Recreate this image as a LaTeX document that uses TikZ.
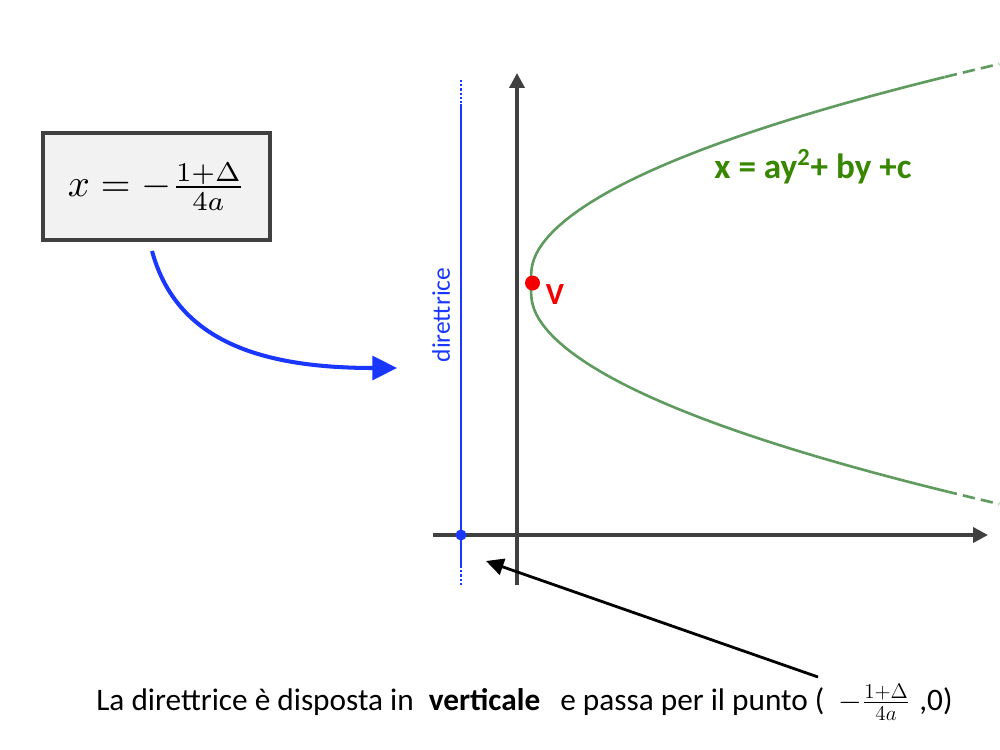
\documentclass[tikz,border=0pt]{standalone}
\usepackage{fontspec}
\setmainfont{Carlito}
\usetikzlibrary{arrows.meta, positioning, calc}

\definecolor{colAxis}{RGB}{64, 64, 64}
\definecolor{colDir}{RGB}{25, 55, 255}
\definecolor{colParab}{RGB}{95, 155, 95}
\definecolor{colEq}{RGB}{55, 135, 0}
\definecolor{colV}{RGB}{245, 0, 0}
\definecolor{colBox}{RGB}{242, 242, 242}
\definecolor{colBoxLine}{RGB}{64, 64, 64}

\tikzset{
    asse/.style={draw=colAxis, line width=2.1pt, -{Triangle[length=8.5pt, width=8.5pt]}},
    dirline/.style={draw=colDir, line width=1.1pt},
    dirdots/.style={dirline, dash pattern=on 1.2pt off 1.2pt},
    parab/.style={draw=colParab, line width=1.5pt},
    punto/.style={circle, inner sep=0pt, minimum size=#1},
}

\begin{document}
\begin{tikzpicture}[x=0.02cm, y=-0.02cm, every node/.style={font=\fontsize{17.8}{21}\selectfont}]
    \useasboundingbox (0, 0) rectangle (1000, 750);

    % --- Assi ---
    \coordinate (xS) at (433, 535);
    \coordinate (xE) at (988, 535);
    \coordinate (yS) at (517, 585);
    \coordinate (yE) at (517, 73);
    \draw[asse] (xS) -- (xE);
    \draw[asse] (yS) -- (yE);

    % --- Direttrice ---
    \coordinate (dTop) at (461, 80);
    \coordinate (dA) at (461, 104);
    \coordinate (dB) at (461, 566);
    \coordinate (dBot) at (461, 586);
    \draw[dirdots] (dTop) -- (dA);
    \draw[dirline] (dA) -- (dB);
    \draw[dirdots] (dB) -- (dBot);
    \node[punto=11*0.02cm, fill=colDir] (F) at (461, 535) {};
    \node[rotate=90, text=colDir, font=\fontsize{14.5}{17}\selectfont] (lDir) at (441, 315) {direttrice};

    % --- Parabola: x = 531 + 98 t^2 (t^2/(t^2+0.0625)), y = 284 - 100 t ---
    \draw[parab] plot[domain=-2.07:2.07, samples=90, variable=\t]
        ({531+98*\t*\t*(\t*\t/(\t*\t+0.0625))}, {284-100*\t});
    % tratti finali tratteggiati
    \draw[parab, dash pattern=on 7pt off 3.5pt] plot[domain=2.07:2.2, samples=8, variable=\t]
        ({531+98*\t*\t*(\t*\t/(\t*\t+0.0625))}, {284-100*\t});
    \draw[parab, dash pattern=on 7pt off 3.5pt] plot[domain=-2.07:-2.2, samples=8, variable=\t]
        ({531+98*\t*\t*(\t*\t/(\t*\t+0.0625))}, {284-100*\t});

    % Vertice
    \node[punto=15*0.02cm, fill=colV] (V) at (532.5, 283) {};
    \node[text=colV, font=\fontsize{17.5}{21}\bfseries] (lV) at (555, 295) {V};

    % Equazione
    \node[text=colEq, font=\fontsize{20}{24}\bfseries] (lEq) at (813, 167) {x = ay\textsuperscript{2}+ by +c};

    % --- Riquadro formula ---
    \node[draw=colBoxLine, fill=colBox, line width=2.3pt, minimum width=227*0.02cm,
          minimum height=107*0.02cm, font=\normalsize] (fBox) at (156.5, 186.5)
          {\scalebox{2.2}{$x = -\frac{1+\Delta}{4a}$}};

    % Freccia blu
    \coordinate (bS) at (152, 251);
    \coordinate (bE) at (397, 368);
    \draw[colDir, line width=2.3pt, -{Triangle[length=14pt, width=13.5pt]}]
        (bS) .. controls (175, 335) and (250, 368) .. (bE);

    % --- Testo in basso ---
    \node[anchor=base west, inner xsep=0pt] (tBot) at (96, 710)
        {La direttrice è disposta in\hspace{0.48em}\textbf{verticale}\hspace{0.64em}e passa per il punto (\hspace{0.45em}$-\frac{1+\Delta}{4a}$\hspace{0.3em},0)};

    % Freccia nera
    \coordinate (nS) at (818, 677);
    \coordinate (nE) at (486, 561);
    \draw[black, line width=1.6pt, -{Triangle[length=10pt, width=9.5pt]}] (nS) -- (nE);

\end{tikzpicture}
\end{document}
